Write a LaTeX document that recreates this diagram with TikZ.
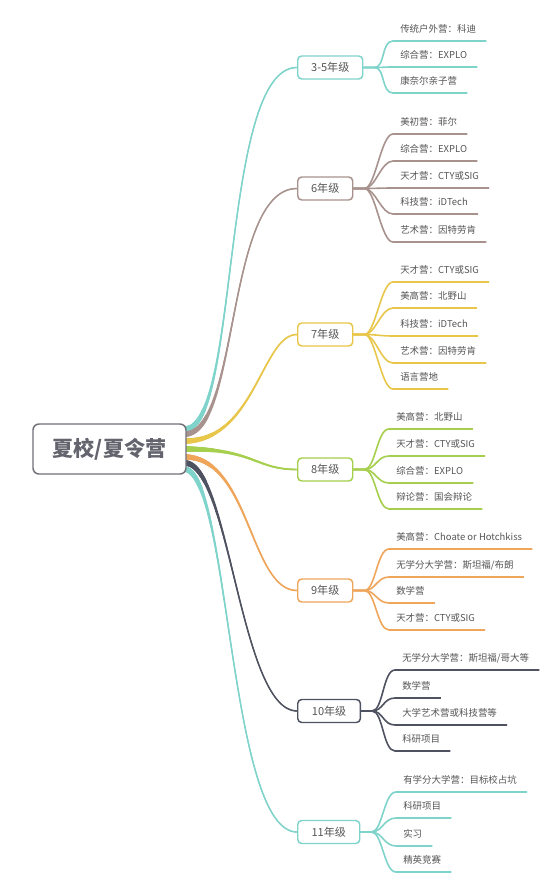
\documentclass[tikz,border=0pt]{standalone}
\usepackage{fontspec}
\setmainfont{Noto Sans CJK SC}
\usetikzlibrary{calc,decorations.markings}
\pgfdeclarelayer{background}
\pgfsetlayers{background,main}
\definecolor{cteal}{HTML}{7ED3CB}
\definecolor{cbrown}{HTML}{A8928E}
\definecolor{cyellow}{HTML}{E8C64A}
\definecolor{cgreen}{HTML}{A5CF4C}
\definecolor{corange}{HTML}{EFA65B}
\definecolor{cdark}{HTML}{4F5260}
\definecolor{rootline}{HTML}{707079}
\definecolor{roottext}{HTML}{64646E}
\definecolor{leaftext}{HTML}{555555}
\tikzset{
  rootbox/.style={draw=rootline, line width=1.1pt, rounded corners=4.5pt, fill=white,
    minimum width=114.75pt, minimum height=37.5pt, text=roottext,
    font=\fontsize{15.8}{18}\selectfont\bfseries},
  grade/.style={draw=#1, line width=1.1pt, rounded corners=3pt, fill=white, anchor=west,
    minimum height=17.25pt, inner xsep=2pt, text=leaftext, font=\fontsize{8.3}{10}\selectfont},
  leaf/.style={anchor=south west, inner xsep=5.25pt, inner ysep=6pt, text depth=0pt,
    text=leaftext, font=\fontsize{7.1}{8.5}\selectfont},
  leafline/.style={draw=#1, line width=1.2pt},
  taper/.style={decorate, decoration={markings,
      mark=between positions 0 and 1 step 0.6pt with {
        \pgfmathsetmacro\tpr{0.375*(1.4+4.6*exp(-\pgfkeysvalueof{/pgf/decoration/mark info/distance from start}/37.5))}
        \fill[#1] (0,0) circle (\tpr pt);
      }}},
  mainline/.style={draw=#1, line width=1.05pt, postaction={taper=#1}}
}
\begin{document}
\begin{tikzpicture}[x=0.75pt, y=-0.75pt]
\useasboundingbox (0,0) rectangle (548,892);
% root
\node[rootbox] (root) at (109.5,449) {夏校/夏令营};
% grade nodes
\node[grade=cteal, minimum width=48.75pt] (g35) at (297,67.5) {3-5年级};
\node[grade=cbrown, minimum width=41.25pt] (g6) at (297,188.5) {6年级};
\node[grade=cyellow, minimum width=41.25pt] (g7) at (297,334.5) {7年级};
\node[grade=cgreen, minimum width=41.25pt] (g8) at (297,469.5) {8年级};
\node[grade=corange, minimum width=41.25pt] (g9) at (297,590.5) {9年级};
\node[grade=cdark, minimum width=47pt] (g10) at (297,711) {10年级};
\node[grade=cteal, minimum width=46.5pt] (g11) at (297,832) {11年级};
% leaves 3-5
\node[leaf] (a1) at (393,41) {传统户外营：科迪};
\node[leaf] (a2) at (393,67) {综合营：EXPLO};
\node[leaf] (a3) at (393,93) {康奈尔亲子营};
% leaves 6
\node[leaf] (b1) at (393,134) {美初营：菲尔};
\node[leaf] (b2) at (393,161) {综合营：EXPLO};
\node[leaf] (b3) at (393,188) {天才营：CTY或SIG};
\node[leaf] (b4) at (393,214) {科技营：iDTech};
\node[leaf] (b5) at (393,242) {艺术营：因特劳肯};
% leaves 7
\node[leaf] (c1) at (393,282) {天才营：CTY或SIG};
\node[leaf] (c2) at (393,308) {美高营：北野山};
\node[leaf] (c3) at (393,336) {科技营：iDTech};
\node[leaf] (c4) at (393,363) {艺术营：因特劳肯};
\node[leaf] (c5) at (393,389) {语言营地};
% leaves 8
\node[leaf] (d1) at (389,429) {美高营：北野山};
\node[leaf] (d2) at (389,456) {天才营：CTY或SIG};
\node[leaf] (d3) at (389,483) {综合营：EXPLO};
\node[leaf] (d4) at (389,509) {辩论营：国会辩论};
% leaves 9
\node[leaf] (e1) at (389,549) {美高营：Choate or Hotchkiss};
\node[leaf] (e2) at (389,577) {无学分大学营：斯坦福/布朗};
\node[leaf] (e3) at (389,603) {数学营};
\node[leaf] (e4) at (389,630) {天才营：CTY或SIG};
% leaves 10
\node[leaf] (f1) at (395,670) {无学分大学营：斯坦福/哥大等};
\node[leaf] (f2) at (395,698) {数学营};
\node[leaf] (f3) at (395,725) {大学艺术营或科技营等};
\node[leaf] (f4) at (395,751) {科研项目};
% leaves 11
\node[leaf] (h1) at (396,792) {有学分大学营：目标校占坑};
\node[leaf] (h2) at (396,818) {科研项目};
\node[leaf] (h3) at (396,846) {实习};
\node[leaf] (h4) at (396,872) {精英竞赛};

\begin{pgfonlayer}{background}
\fill[white] (0,0) rectangle (548,892);
% main branches
\draw[mainline=cteal] ($(root.east)+(-2,-20)$) .. controls (240,429) and (220,67.5) .. (g35.west);
\draw[mainline=cbrown] ($(root.east)+(-2,-15)$) .. controls (240,434) and (225,188.5) .. (g6.west);
\draw[mainline=cyellow] ($(root.east)+(-2,-8)$) .. controls (255,441) and (262,334.5) .. (g7.west);
\draw[mainline=cgreen] ($(root.east)+(-2,0)$) .. controls (255,449) and (255,469.5) .. (g8.west);
\draw[mainline=corange] ($(root.east)+(-2,8)$) .. controls (250,457) and (250,590.5) .. (g9.west);
\draw[mainline=cdark] ($(root.east)+(-2,14)$) .. controls (230,463) and (240,711) .. (g10.west);
\draw[mainline=cteal] ($(root.east)+(-3,20)$) .. controls (230,469) and (228,832) .. (g11.west);
% leaf connectors
\foreach \n in {a1,a2,a3}
  \draw[leafline=cteal] (g35.east) -- ++(11,0) .. controls +(11,0) and +(-12,0) .. (\n.south west) -- ([xshift=2.25pt]\n.south east);
\foreach \n in {b1,b2,b3,b4,b5}
  \draw[leafline=cbrown] (g6.east) -- ++(11,0) .. controls +(11,0) and +(-12,0) .. (\n.south west) -- ([xshift=2.25pt]\n.south east);
\foreach \n in {c1,c2,c3,c4,c5}
  \draw[leafline=cyellow] (g7.east) -- ++(11,0) .. controls +(11,0) and +(-12,0) .. (\n.south west) -- ([xshift=2.25pt]\n.south east);
\foreach \n in {d1,d2,d3,d4}
  \draw[leafline=cgreen] (g8.east) -- ++(11,0) .. controls +(11,0) and +(-12,0) .. (\n.south west) -- ([xshift=2.25pt]\n.south east);
\foreach \n in {e1,e2,e3,e4}
  \draw[leafline=corange] (g9.east) -- ++(11,0) .. controls +(11,0) and +(-12,0) .. (\n.south west) -- ([xshift=2.25pt]\n.south east);
\foreach \n in {f1,f2,f3,f4}
  \draw[leafline=cdark] (g10.east) -- ++(11,0) .. controls +(11,0) and +(-12,0) .. (\n.south west) -- ([xshift=2.25pt]\n.south east);
\foreach \n in {h1,h2,h3,h4}
  \draw[leafline=cteal] (g11.east) -- ++(11,0) .. controls +(11,0) and +(-12,0) .. (\n.south west) -- ([xshift=2.25pt]\n.south east);
\end{pgfonlayer}
\end{tikzpicture}
\end{document}
